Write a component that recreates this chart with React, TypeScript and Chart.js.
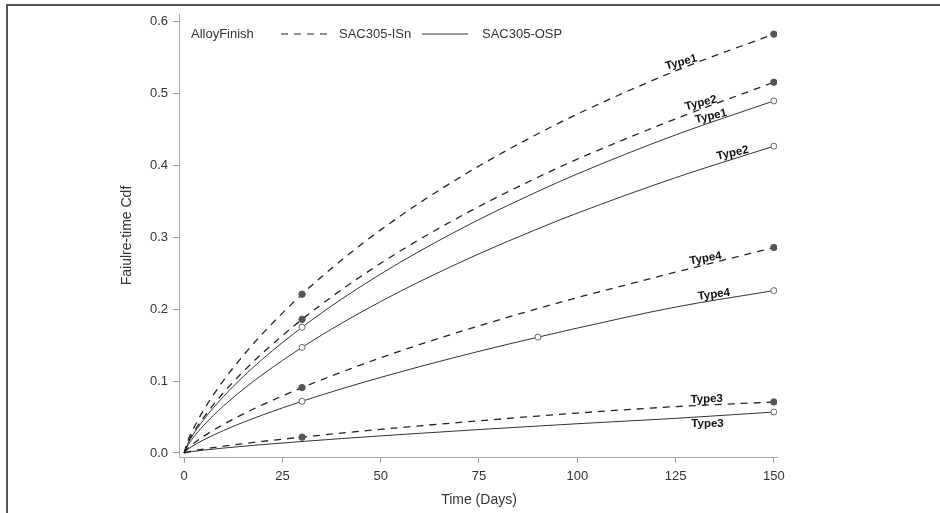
import React, { useEffect, useRef } from "react";
import { Chart, registerables } from "chart.js";

Chart.register(...registerables);

// ---- data ----
const days = [0, 1, 2, 5, 10, 15, 20, 30, 40, 50, 60, 75, 90, 100, 125, 150];
const isnType1 = [0, 0.0175, 0.0298, 0.06, 0.1007, 0.1354, 0.1664, 0.221, 0.2683, 0.3105, 0.3485, 0.3994, 0.4443, 0.4717, 0.5318, 0.583];
const isnType2 = [0, 0.0144, 0.0247, 0.0497, 0.0838, 0.1131, 0.1393, 0.186, 0.227, 0.264, 0.2976, 0.3431, 0.3838, 0.4089, 0.465, 0.516];
const ospType1 = [0, 0.0135, 0.0231, 0.0465, 0.0785, 0.1061, 0.1309, 0.175, 0.214, 0.2491, 0.2812, 0.3249, 0.3641, 0.3884, 0.4427, 0.49];
const ospType2 = [0, 0.0112, 0.0191, 0.0386, 0.0654, 0.0885, 0.1094, 0.147, 0.1804, 0.2108, 0.2388, 0.2772, 0.3121, 0.3338, 0.3832, 0.427];
const isnType4 = [0, 0.0067, 0.0115, 0.0234, 0.0397, 0.0541, 0.0672, 0.091, 0.1125, 0.1325, 0.151, 0.177, 0.2011, 0.2162, 0.2516, 0.286];
const ospType4 = [0, 0.0053, 0.009, 0.0183, 0.0312, 0.0426, 0.053, 0.072, 0.0892, 0.1052, 0.1203, 0.1415, 0.1612, 0.1738, 0.2031, 0.226];
const isnType3 = [0, 0.0016, 0.0027, 0.0055, 0.0094, 0.0129, 0.0162, 0.022, 0.0277, 0.0329, 0.0378, 0.0448, 0.0514, 0.0556, 0.0645, 0.071];
const ospType3 = [0, 0.0011, 0.0019, 0.004, 0.0068, 0.0093, 0.0117, 0.016, 0.02, 0.0238, 0.0274, 0.0326, 0.0375, 0.0407, 0.0482, 0.057];

const xTicks = [0, 25, 50, 75, 100, 125, 150];
const yTicks = [0, 0.1, 0.2, 0.3, 0.4, 0.5, 0.6];
const groupNames = ["SAC305-ISn", "SAC305-OSP"];
const legendTitle = "AlloyFinish";
const xTitle = "Time (Days)";
const yTitle = "Faiulre-time Cdf";

type S = { label: string; group: number; values: number[]; marks: number[]; labelAt: number; below?: boolean };
const seriesList: S[] = [
  { label: "Type1", group: 0, values: isnType1, marks: [30, 150], labelAt: 127 },
  { label: "Type2", group: 0, values: isnType2, marks: [30, 150], labelAt: 132 },
  { label: "Type1", group: 1, values: ospType1, marks: [30, 150], labelAt: 134.5 },
  { label: "Type2", group: 1, values: ospType2, marks: [30, 150], labelAt: 140 },
  { label: "Type4", group: 0, values: isnType4, marks: [30, 150], labelAt: 133 },
  { label: "Type4", group: 1, values: ospType4, marks: [30, 90, 150], labelAt: 135 },
  { label: "Type3", group: 0, values: isnType3, marks: [30, 150], labelAt: 133 },
  { label: "Type3", group: 1, values: ospType3, marks: [150], labelAt: 133, below: true },
];

const FONT = "'Liberation Sans', Arial, sans-serif";

const overlayPlugin = {
  id: "overlay",
  afterDraw(chart: any) {
    const ctx = chart.ctx;
    const ca = chart.chartArea;
    const xs = chart.scales.x;
    ctx.save();
    // curve labels
    ctx.font = `bold 11.5px ${FONT}`;
    ctx.fillStyle = "#111";
    ctx.textAlign = "center";
    ctx.textBaseline = "middle";
    seriesList.forEach((s, i) => {
      const meta = chart.getDatasetMeta(i);
      const pts = meta.data;
      const px = (t: number) => {
        for (let k = 0; k < days.length - 1; k++) {
          if (t >= days[k] && t <= days[k + 1]) {
            const f = (t - days[k]) / (days[k + 1] - days[k]);
            return {
              x: pts[k].x + f * (pts[k + 1].x - pts[k].x),
              y: pts[k].y + f * (pts[k + 1].y - pts[k].y),
            };
          }
        }
        return { x: pts[pts.length - 1].x, y: pts[pts.length - 1].y };
      };
      const p = px(s.labelAt);
      const a = px(Math.max(0, s.labelAt - 12));
      const b = px(Math.min(150, s.labelAt + 12));
      const lineAng = Math.atan2(b.y - a.y, b.x - a.x);
      const ang = s.below ? 0 : lineAng * 0.7;
      const off = s.below ? 8 : -6;
      const nx = -Math.sin(lineAng) * off;
      const ny = Math.cos(lineAng) * off;
      ctx.save();
      ctx.translate(p.x + nx, p.y + ny);
      ctx.rotate(ang);
      ctx.fillText(s.label, 0, 0);
      ctx.restore();
    });
    // legend
    const ly = 34;
    ctx.font = `13px ${FONT}`;
    ctx.fillStyle = "#333";
    ctx.textAlign = "left";
    ctx.fillText(legendTitle, 191, ly);
    ctx.strokeStyle = "#222";
    ctx.lineWidth = 1.2;
    ctx.setLineDash([7, 6]);
    ctx.beginPath();
    ctx.moveTo(281, ly);
    ctx.lineTo(328, ly);
    ctx.stroke();
    ctx.setLineDash([]);
    ctx.fillText(groupNames[0], 339, ly);
    ctx.strokeStyle = "#333";
    ctx.lineWidth = 1;
    ctx.beginPath();
    ctx.moveTo(422, ly);
    ctx.lineTo(468, ly);
    ctx.stroke();
    ctx.fillText(groupNames[1], 482, ly);
    // axis titles
    ctx.font = `14px ${FONT}`;
    ctx.textAlign = "center";
    ctx.fillText(xTitle, (xs.getPixelForValue(0) + xs.getPixelForValue(150)) / 2, 500);
    ctx.save();
    ctx.translate(127, (ca.top + ca.bottom) / 2);
    ctx.rotate(-Math.PI / 2);
    ctx.fillText(yTitle, 0, 0);
    ctx.restore();
    ctx.restore();
  },
};

export default function App() {
  const ref = useRef<HTMLCanvasElement>(null);
  useEffect(() => {
    document.body.style.margin = "0";
    const datasets = seriesList.map((s) => {
      const dashed = s.group === 0;
      return {
        label: s.label,
        data: days.map((d, i) => ({ x: d, y: s.values[i] })),
        showLine: true,
        borderColor: dashed ? "#222" : "#333",
        borderWidth: dashed ? 1.3 : 1,
        borderDash: dashed ? [7, 6] : [],
        cubicInterpolationMode: "monotone" as const,
        pointRadius: (c: any) => (s.marks.includes(days[c.dataIndex]) ? (dashed ? 3.2 : 3) : 0),
        pointBackgroundColor: dashed ? "#555" : "#fff",
        pointBorderColor: dashed ? "#555" : "#666",
        pointBorderWidth: 1,
        pointHoverRadius: 0,
      };
    });
    const chart = new Chart(ref.current!, {
      type: "scatter",
      data: { datasets },
      options: {
        animation: false,
        responsive: false,
        devicePixelRatio: 1,
        layout: { padding: { top: 14, right: 163, bottom: 0, left: 0 } },
        plugins: { legend: { display: false }, tooltip: { enabled: false } },
        scales: {
          x: {
            type: "linear",
            min: -1.3,
            max: 150.8,
            afterBuildTicks: (sc: any) => {
              sc.ticks = xTicks.map((v) => ({ value: v }));
            },
            afterFit: (sc: any) => {
              sc.height = 56;
            },
            border: { color: "#aaa", width: 1 },
            grid: { drawOnChartArea: false, drawTicks: true, tickLength: 6, color: "#999" },
            ticks: {
              color: "#333",
              padding: 6,
              maxRotation: 0,
              font: { family: FONT, size: 13 },
              callback: (v: any) => String(v),
            },
          },
          y: {
            type: "linear",
            min: -0.0056,
            max: 0.611,
            afterBuildTicks: (sc: any) => {
              sc.ticks = yTicks.map((v) => ({ value: v }));
            },
            afterFit: (sc: any) => {
              sc.width = 179;
            },
            border: { color: "#aaa", width: 1 },
            grid: { drawOnChartArea: false, drawTicks: true, tickLength: 6, color: "#999" },
            ticks: {
              color: "#333",
              padding: 5,
              font: { family: FONT, size: 13 },
              callback: (v: any) => Number(v).toFixed(1),
            },
          },
        },
      },
      plugins: [overlayPlugin],
    });
    return () => chart.destroy();
  }, []);
  return (
    <div style={{ position: "absolute", left: 0, top: 0, width: 940, height: 513, background: "#fff" }}>
      <canvas ref={ref} width={940} height={513} style={{ position: "absolute", left: 0, top: 0 }} />
      <div
        style={{
          position: "absolute",
          left: 6,
          top: 4,
          width: 934,
          height: 509,
          borderTop: "2px solid #555",
          borderLeft: "2px solid #555",
          boxSizing: "border-box",
          pointerEvents: "none",
        }}
      />
    </div>
  );
}
